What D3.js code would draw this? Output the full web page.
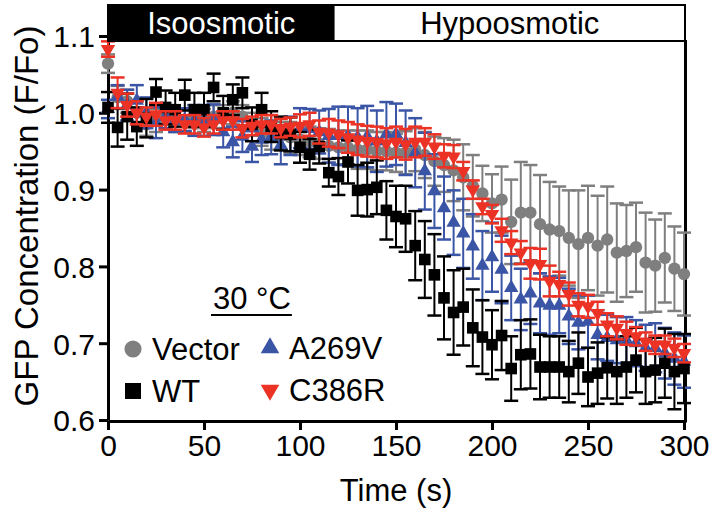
<!DOCTYPE html>
<html>
<head>
<meta charset="utf-8">
<script src="https://cdnjs.cloudflare.com/ajax/libs/d3/7.8.5/d3.min.js"></script>
<style>
body { margin: 0; background: #fff; }
text { font-family: "Liberation Sans", Arial, Helvetica, sans-serif; }
</style>
</head>
<body>
<div id="chart"></div>
<script>
// time points (s)
var time = [0,5,10,15,20,25,30,35,40,45,50,55,60,65,70,75,80,85,90,95,100,105,110,115,120,125,130,135,140,145,150,
    155,160,165,170,175,180,185,190,195,200,205,210,215,220,225,230,235,240,245,250,255,260,265,270,275,280,285,290,295,300];

// GFP concentration (F/Fo), mean and error
var vector = [1.064,1.02,1.015,1.0,0.985,0.99,0.995,0.99,0.99,0.995,0.99,0.995,0.995,1.0,0.995,0.985,
    0.975,0.97,0.97,0.968,0.965,0.962,0.96,0.957,0.955,0.955,0.952,0.952,0.95,0.95,0.948,
    0.948,0.952,0.945,0.937,0.932,0.925,0.916,0.905,0.895,0.882,0.887,0.858,0.87,0.87,0.855,
    0.848,0.846,0.837,0.829,0.837,0.827,0.835,0.818,0.82,0.825,0.805,0.801,0.811,0.797,0.79];
var vectorErr = [0.012,0.015,0.015,0.015,0.015,0.015,0.015,0.015,0.015,0.015,0.015,0.015,0.015,0.015,0.015,0.015,
    0.018,0.018,0.018,0.02,0.02,0.02,0.02,0.022,0.022,0.022,0.025,0.025,0.025,0.025,0.025,
    0.028,0.028,0.03,0.032,0.035,0.04,0.043,0.04,0.036,0.038,0.043,0.055,0.066,0.062,0.064,
    0.062,0.058,0.062,0.07,0.068,0.065,0.069,0.064,0.06,0.058,0.065,0.06,0.058,0.055,0.054];

var wt = [1.007,0.981,0.995,0.982,0.993,1.027,1.007,1.004,1.023,1.004,1.004,1.033,1.0,1.017,1.026,0.985,
    1.004,0.982,0.973,0.972,0.955,0.946,0.956,0.922,0.917,0.936,0.899,0.9,0.903,0.873,0.865,
    0.862,0.827,0.809,0.789,0.759,0.74,0.747,0.72,0.708,0.698,0.71,0.667,0.685,0.686,0.669,
    0.669,0.669,0.663,0.674,0.656,0.661,0.668,0.663,0.669,0.678,0.663,0.665,0.674,0.663,0.667];
var wtErr = [0.02,0.025,0.03,0.025,0.025,0.017,0.022,0.022,0.02,0.022,0.022,0.018,0.022,0.02,0.02,0.022,
    0.022,0.02,0.022,0.022,0.02,0.02,0.022,0.018,0.024,0.028,0.033,0.035,0.035,0.038,0.04,
    0.043,0.045,0.05,0.053,0.054,0.055,0.05,0.05,0.048,0.045,0.045,0.042,0.045,0.045,0.042,
    0.04,0.04,0.04,0.04,0.038,0.04,0.04,0.042,0.04,0.042,0.042,0.042,0.045,0.049,0.045];

var a269v = [1.005,1.021,1.01,1.016,1.0,0.987,0.995,0.99,0.991,0.99,0.99,0.991,0.975,0.962,0.969,0.956,
    0.965,0.968,0.958,0.97,0.98,0.979,0.975,0.97,0.97,0.97,0.968,0.969,0.963,0.972,0.972,
    0.961,0.948,0.924,0.898,0.876,0.857,0.843,0.826,0.801,0.812,0.796,0.772,0.757,0.765,0.752,
    0.749,0.749,0.735,0.727,0.728,0.711,0.707,0.704,0.704,0.7,0.694,0.694,0.687,0.68,0.676];
var a269vErr = [0.012,0.015,0.02,0.02,0.02,0.02,0.015,0.015,0.015,0.02,0.02,0.02,0.02,0.02,0.02,0.02,
    0.02,0.022,0.025,0.025,0.026,0.026,0.028,0.035,0.038,0.038,0.038,0.04,0.04,0.042,0.04,
    0.042,0.045,0.05,0.048,0.041,0.042,0.045,0.042,0.045,0.045,0.044,0.042,0.04,0.04,0.039,
    0.038,0.036,0.036,0.035,0.034,0.032,0.03,0.03,0.03,0.03,0.03,0.032,0.033,0.034,0.034];

var c386r = [1.083,1.026,1.01,1.0,0.995,0.998,0.99,0.99,0.985,0.985,0.981,0.985,0.99,0.99,0.98,0.983,
    0.985,0.985,0.98,0.982,0.983,0.985,0.975,0.974,0.972,0.968,0.965,0.963,0.962,0.96,0.962,
    0.959,0.962,0.962,0.956,0.944,0.943,0.924,0.9,0.878,0.868,0.847,0.831,0.818,0.804,0.803,
    0.781,0.777,0.764,0.75,0.748,0.739,0.724,0.72,0.713,0.709,0.702,0.698,0.698,0.694,0.687];
var c386rErr = [0.01,0.02,0.015,0.015,0.012,0.015,0.012,0.012,0.012,0.012,0.012,0.012,0.012,0.012,0.012,0.012,
    0.012,0.012,0.012,0.012,0.015,0.015,0.015,0.018,0.018,0.02,0.02,0.02,0.02,0.02,0.02,
    0.02,0.02,0.018,0.016,0.015,0.015,0.012,0.012,0.01,0.012,0.015,0.015,0.015,0.02,0.02,
    0.02,0.016,0.015,0.015,0.015,0.015,0.015,0.015,0.015,0.012,0.012,0.012,0.012,0.012,0.012];

var xTicks = [0,50,100,150,200,250,300];
var yTicks = [0.6,0.7,0.8,0.9,1.0,1.1];
var switchTime = 118; // end of isoosmotic period

var width = 718;
var height = 512;

var svgCanvas = d3.select("#chart")
    .append("svg")
    .attr("width", width)
    .attr("height", height);

var xScale = d3.scaleLinear().domain([0, 300]).range([108, 684]);
var yScale = d3.scaleLinear().domain([0.6, 1.1]).range([420, 36]);

// axes
var xAxis = svgCanvas.append("g")
    .attr("transform", "translate(0,421)")
    .call(d3.axisBottom(xScale).tickValues(xTicks).tickSize(9).tickSizeOuter(0).tickPadding(5));

var yAxis = svgCanvas.append("g")
    .attr("transform", "translate(108,0)")
    .call(d3.axisLeft(yScale).tickValues(yTicks).tickSize(9).tickSizeOuter(0).tickPadding(4)
        .tickFormat(d3.format(".1f")));

[xAxis, yAxis].forEach(function(ax) {
    ax.select(".domain").attr("stroke", "#000").attr("stroke-width", 3);
    ax.selectAll(".tick line").attr("stroke", "#000").attr("stroke-width", 3);
    ax.selectAll(".tick text")
        .attr("fill", "#000")
        .style("font-family", "'Liberation Sans', Arial, sans-serif")
        .style("font-size", "30px");
});
yAxis.selectAll(".tick text").attr("dy", "0.36em");

// right frame line
svgCanvas.append("line")
    .attr("x1", 685.5).attr("x2", 685.5)
    .attr("y1", 40).attr("y2", 422.5)
    .attr("stroke", "#000")
    .attr("stroke-width", 3);

// axis titles
svgCanvas.append("text")
    .attr("x", 396)
    .attr("y", 501)
    .attr("text-anchor", "middle")
    .style("font-size", "31px")
    .text("Time (s)");

svgCanvas.append("text")
    .attr("transform", "translate(38,216) rotate(-90)")
    .attr("text-anchor", "middle")
    .style("font-size", "33px")
    .text("GFP Concentration (F/Fo)");

// series
function drawSeries(values, errs, color, shape, rot, size) {
    var data = time.map(function(t, k) {
        return { t: t, v: values[k], e: errs[k] };
    });
    var g = svgCanvas.append("g");
    var cap = 7;

    g.selectAll("line.stem").data(data).enter()
        .append("line")
        .attr("class", "stem")
        .attr("x1", function(d) { return xScale(d.t); })
        .attr("x2", function(d) { return xScale(d.t); })
        .attr("y1", function(d) { return yScale(d.v - d.e); })
        .attr("y2", function(d) { return yScale(d.v + d.e); })
        .attr("stroke", color)
        .attr("stroke-width", 2);

    g.selectAll("line.capTop").data(data).enter()
        .append("line")
        .attr("class", "capTop")
        .attr("x1", function(d) { return xScale(d.t) - cap; })
        .attr("x2", function(d) { return xScale(d.t) + cap; })
        .attr("y1", function(d) { return yScale(d.v + d.e); })
        .attr("y2", function(d) { return yScale(d.v + d.e); })
        .attr("stroke", color)
        .attr("stroke-width", 2.5);

    g.selectAll("line.capBot").data(data).enter()
        .append("line")
        .attr("class", "capBot")
        .attr("x1", function(d) { return xScale(d.t) - cap; })
        .attr("x2", function(d) { return xScale(d.t) + cap; })
        .attr("y1", function(d) { return yScale(d.v - d.e); })
        .attr("y2", function(d) { return yScale(d.v - d.e); })
        .attr("stroke", color)
        .attr("stroke-width", 2.5);

    g.selectAll("path.mark").data(data).enter()
        .append("path")
        .attr("class", "mark")
        .attr("d", d3.symbol().type(shape).size(size))
        .attr("transform", function(d) {
            return "translate(" + xScale(d.t) + "," + yScale(d.v) + ") rotate(" + rot + ")";
        })
        .attr("fill", color);
}

var grey = "#7f7f7f";
var blue = "#3b55a6";
var red = "#ec3224";

drawSeries(vector, vectorErr, grey, d3.symbolCircle, 0, 120);
drawSeries(a269v, a269vErr, blue, d3.symbolTriangle, 0, 90);
drawSeries(wt, wtErr, "#000", d3.symbolSquare, 0, 135);
drawSeries(c386r, c386rErr, red, d3.symbolTriangle, 180, 90);

// header bar
svgCanvas.append("rect")
    .attr("x", 108).attr("y", 5)
    .attr("width", 577).attr("height", 36)
    .attr("fill", "#fff")
    .attr("stroke", "#000")
    .attr("stroke-width", 2);
svgCanvas.append("rect")
    .attr("x", 108).attr("y", 5)
    .attr("width", xScale(switchTime) - 108).attr("height", 36)
    .attr("fill", "#000");
svgCanvas.append("text")
    .attr("x", (108 + xScale(switchTime)) / 2)
    .attr("y", 34)
    .attr("text-anchor", "middle")
    .attr("fill", "#fff")
    .style("font-size", "31px")
    .text("Isoosmotic");
svgCanvas.append("text")
    .attr("x", (xScale(switchTime) + 685) / 2)
    .attr("y", 34)
    .attr("text-anchor", "middle")
    .attr("fill", "#000")
    .style("font-size", "31px")
    .text("Hypoosmotic");

// legend
var legendTitle = svgCanvas.append("text")
    .attr("x", 213)
    .attr("y", 309)
    .style("font-size", "31px")
    .text("30 \u00B0C");
var tw = legendTitle.node().getComputedTextLength();
svgCanvas.append("line")
    .attr("x1", 211).attr("x2", 213 + tw + 1)
    .attr("y1", 315).attr("y2", 315)
    .attr("stroke", "#000")
    .attr("stroke-width", 2);

var legendItems = [
    { name: "Vector", color: grey, shape: d3.symbolCircle, rot: 0, size: 230, x: 133, y: 349 },
    { name: "A269V", color: blue, shape: d3.symbolTriangle, rot: 0, size: 150, x: 270, y: 348 },
    { name: "WT", color: "#000", shape: d3.symbolSquare, rot: 0, size: 256, x: 133, y: 391 },
    { name: "C386R", color: red, shape: d3.symbolTriangle, rot: 180, size: 150, x: 270, y: 390 }
];

legendItems.forEach(function(d) {
    svgCanvas.append("path")
        .attr("d", d3.symbol().type(d.shape).size(d.size))
        .attr("transform", "translate(" + d.x + "," + d.y + ") rotate(" + d.rot + ")")
        .attr("fill", d.color);
    svgCanvas.append("text")
        .attr("x", d.x + 19)
        .attr("y", d.y + 11)
        .style("font-size", "31px")
        .text(d.name);
});
</script>
</body>
</html>
